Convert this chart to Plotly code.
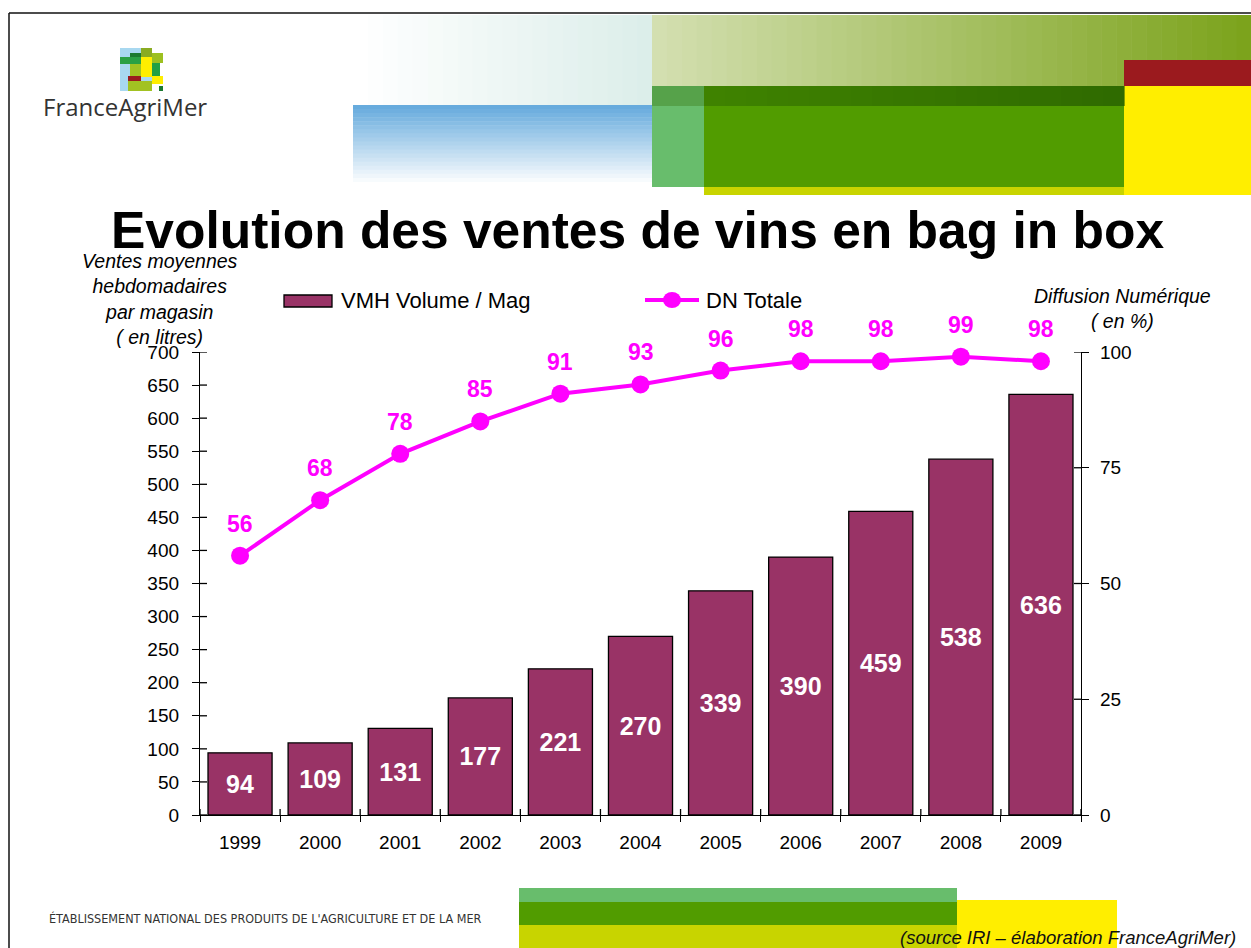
import plotly.graph_objects as go

# ---- data ----
years = ["1999", "2000", "2001", "2002", "2003", "2004", "2005", "2006", "2007", "2008", "2009"]
vmh_volume = [94, 109, 131, 177, 221, 270, 339, 390, 459, 538, 636]
dn_totale = [56, 68, 78, 85, 91, 93, 96, 98, 98, 99, 98]
left_ticks = list(range(0, 701, 50))
right_ticks = [0, 25, 50, 75, 100]

# ---- page geometry ----
W, H = 1251, 948
ML, MR, MT, MB = 200, 170, 352, 133
PW, PH = W - ML - MR, H - MT - MB

def px(x):
    return (x - ML) / PW

def py(y):
    return (H - MB - y) / PH

BAR = "#993366"
MAG = "#FF00FF"
FONT = "Liberation Sans, Arial, sans-serif"

fig = go.Figure()

fig.add_trace(go.Bar(
    x=years, y=vmh_volume, name="VMH Volume / Mag",
    marker=dict(color=BAR, line=dict(color="black", width=1.3)),
    width=0.8,
    text=[str(v) for v in vmh_volume], textposition="inside",
    insidetextanchor="middle", textangle=0,
    textfont=dict(family=FONT, size=25, color="white", weight="bold"),
    cliponaxis=False, showlegend=False, hoverinfo="skip",
))

fig.add_trace(go.Scatter(
    x=years, y=dn_totale, yaxis="y2", name="DN Totale", mode="lines+markers",
    line=dict(color=MAG, width=4),
    marker=dict(color=MAG, size=18),
    cliponaxis=False, showlegend=False, hoverinfo="skip",
))

annotations = []
# value labels above the DN points (category axes take the category index)
for i, v in enumerate(dn_totale):
    annotations.append(dict(
        x=i, y=v, xref="x", yref="y2", yshift=32, text=str(v), showarrow=False,
        font=dict(family=FONT, size=23, color=MAG, weight="bold"),
    ))

def note(x, y, text, size, xanchor="center", color="black", **kw):
    annotations.append(dict(
        x=px(x), y=py(y), xref="paper", yref="paper", text=text, showarrow=False,
        xanchor=xanchor, yanchor="middle", font=dict(family=kw.pop("family", FONT), size=size, color=color, **kw),
    ))

# title and axis titles
note(637, 230, "Evolution des ventes de vins en bag in box", 51.5, weight="bold")
note(160, 299, "<i>Ventes moyennes<br>hebdomadaires<br>par magasin<br>( en litres)</i>", 19.5)
note(1122, 308, "<i>Diffusion Numérique<br>( en %)</i>", 19.5)

# legend
note(339, 301, "VMH Volume / Mag", 22, xanchor="left")
note(704, 301, "DN Totale", 22, xanchor="left")

# header / footer text
note(41, 106, "FranceAgriMer", 24, xanchor="left", color="#333333", family="Open Sans, Noto Sans, sans-serif")
note(47, 918, "ÉTABLISSEMENT NATIONAL DES PRODUITS DE L'AGRICULTURE ET DE LA MER", 12.5,
     xanchor="left", color="#333333", family="Liberation Sans Narrow, DejaVu Sans Condensed, Arial, sans-serif")
annotations.append(dict(
    x=px(1238), y=py(937), xref="paper", yref="paper", xanchor="right", yanchor="middle",
    text="<i>(source IRI – élaboration FranceAgriMer)</i>", showarrow=False,
    font=dict(family="Liberation Sans Narrow, Arial, sans-serif", size=18.5, color="#111111"),
))

shapes = []

def rect(x0, y0, x1, y1, color, line=None, layer="below"):
    shapes.append(dict(
        type="rect", xref="paper", yref="paper", x0=px(x0), x1=px(x1), y0=py(y1), y1=py(y0),
        fillcolor=color, line=line or dict(width=0), layer=layer,
    ))

def hexrgb(c):
    c = c.lstrip("#")
    return [int(c[i:i + 2], 16) for i in (0, 2, 4)]

def mix(a, b, t):
    ca, cb = hexrgb(a), hexrgb(b)
    return "rgb(%d,%d,%d)" % tuple(round(ca[i] + (cb[i] - ca[i]) * t) for i in range(3))

def hgrad(x0, y0, x1, y1, c0, c1, n=30):
    step = (x1 - x0) / n
    for i in range(n):
        rect(x0 + i * step, y0, x0 + (i + 1) * step + 0.6, y1, mix(c0, c1, i / (n - 1)))

def vgrad(x0, y0, x1, y1, c0, c1, n=20):
    step = (y1 - y0) / n
    for i in range(n):
        rect(x0, y0 + i * step, x1, y0 + (i + 1) * step + 0.6, mix(c0, c1, i / (n - 1)))

# header banner
hgrad(353, 15, 652, 105, "#ffffff", "#dceeea", 20)
vgrad(353, 105, 652, 186, "#67abdd", "#ffffff", 20)
hgrad(652, 15, 1251, 86, "#d3dfb0", "#7ca31c", 40)
rect(1124, 60, 1251, 86, "#9b1a1e")
rect(1124, 86, 1251, 195, "#ffee00")
rect(704, 186, 1124, 195, "#c8d400")
rect(652, 86, 704, 187, "#68bd6c")
rect(652, 86, 704, 106, "#56a24a")
hgrad(704, 86, 1124, 106, "#3f8200", "#2f6b00", 20)
rect(704, 106, 1124, 187, "#519c00")

# logo tiles
rect(120, 48, 152, 91, "#a8d8f0")
rect(141, 48, 152, 58, "#8aab22")
rect(130, 53, 141, 57, "#1b7a30")
rect(152, 53, 163, 63, "#9dc020")
rect(120, 57, 141, 64, "#2aa044")
rect(141, 57, 152, 77, "#ffee00")
rect(130, 64, 141, 76, "#a2c222")
rect(152, 63, 160, 76, "#22a044")
rect(128, 76, 141, 81, "#9b1a1e")
rect(152, 76, 163, 84, "#ffee00")
rect(128, 81, 152, 91, "#a2c222")
rect(159, 86, 163, 91, "#1b7a30")

# footer banner
rect(519, 888, 957, 902, "#68bd6c")
rect(957, 900, 1117, 948, "#ffee00")
rect(519, 902, 957, 925, "#519c00")
rect(519, 925, 957, 948, "#c8d400")

# page frame
shapes.append(dict(type="line", xref="paper", yref="paper", x0=px(9), x1=px(1251), y0=py(13), y1=py(13),
                   line=dict(color="#111111", width=1.5), layer="below"))
shapes.append(dict(type="line", xref="paper", yref="paper", x0=px(9), x1=px(9), y0=py(13), y1=py(948),
                   line=dict(color="#111111", width=1.5), layer="below"))

# legend swatches
rect(284, 295, 332, 307, BAR, line=dict(color="black", width=1.3), layer="above")
shapes.append(dict(type="line", xref="paper", yref="paper", x0=px(645), x1=px(699), y0=py(300), y1=py(300),
                   line=dict(color=MAG, width=4), layer="above"))
shapes.append(dict(type="circle", xref="paper", yref="paper", x0=px(663), x1=px(681), y0=py(308), y1=py(292),
                   fillcolor=MAG, line=dict(width=0), layer="above"))

# inner halves of the crossing tick marks
tick_line = dict(color="black", width=1.3)
for v in left_ticks:
    shapes.append(dict(type="line", xref="paper", yref="y", x0=0, x1=px(207), y0=v, y1=v,
                       line=tick_line, layer="above"))
for v in right_ticks:
    shapes.append(dict(type="line", xref="paper", yref="y2", x0=px(1074), x1=1, y0=v, y1=v,
                       line=tick_line, layer="above"))
for i in range(len(years) + 1):
    shapes.append(dict(type="line", xref="x", yref="paper", x0=i - 0.5, x1=i - 0.5, y0=0, y1=py(809),
                       line=tick_line, layer="above"))

tickfont = dict(family=FONT, size=19, color="black")
fig.update_layout(
    width=W, height=H,
    margin=dict(l=ML, r=MR, t=MT, b=MB, autoexpand=False),
    paper_bgcolor="white", plot_bgcolor="rgba(0,0,0,0)",
    bargap=0.2,
    xaxis=dict(type="category", showline=True, linecolor="black", linewidth=1.3,
               ticks="outside", ticklen=6, tickcolor="black", tickson="boundaries",
               tickfont=tickfont, showgrid=False, zeroline=False, range=[-0.5, 10.5],
               ticklabelstandoff=10),
    yaxis=dict(range=[0, 700], tickvals=left_ticks, showline=True, linecolor="black", linewidth=1.3,
               ticks="outside", ticklen=7, tickcolor="black", tickfont=tickfont,
               showgrid=False, zeroline=False, ticklabelstandoff=9),
    yaxis2=dict(range=[0, 100], tickvals=right_ticks, overlaying="y", side="right",
                showline=True, linecolor="black", linewidth=1.3,
                ticks="outside", ticklen=7, tickcolor="black", tickfont=tickfont,
                showgrid=False, zeroline=False, ticklabelstandoff=7),
    annotations=annotations,
    shapes=shapes,
    showlegend=False,
)

fig.write_html("out.html")
